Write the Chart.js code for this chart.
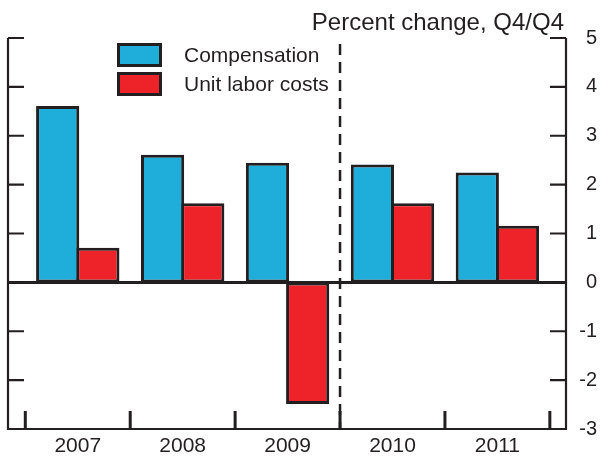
<!DOCTYPE html>
<html lang="en">
<head>
<meta charset="UTF-8">
<title>Compensation and unit labor costs</title>
<style>
  html, body { margin: 0; padding: 0; background: #fff; }
  canvas { display: block; }
</style>
</head>
<body>
<canvas id="myChart" width="603" height="458"></canvas>

<script src="https://cdn.jsdelivr.net/npm/chart.js"></script>
<script>
// data
const years = [2007, 2008, 2009, 2010, 2011];
const compensation = [3.61, 2.61, 2.45, 2.41, 2.25];
const unitLaborCosts = [0.71, 1.62, -2.49, 1.62, 1.16];
const yMin = -3, yMax = 5, yStep = 1;
const splitYear = 2009.5;   // dashed line between actual and projected
const titleText = 'Percent change, Q4/Q4';

const INK = '#231F20';
const BLUE = '#1FADD9';
const RED = '#EE2229';
const FONT = "'Liberation Sans', Arial, Helvetica, sans-serif";

// frame, ticks, zero line, dashed divider, legend and title
const framePlugin = {
  id: 'frame',
  beforeDatasetsDraw(chart) {
    const ctx = chart.ctx, a = chart.chartArea, ys = chart.scales.y;
    const y0 = ys.getPixelForValue(0);
    ctx.save();
    ctx.strokeStyle = INK;
    ctx.lineWidth = 3;
    ctx.beginPath();
    ctx.moveTo(a.left, y0);
    ctx.lineTo(a.right, y0);
    ctx.stroke();
    ctx.restore();
  },
  afterDatasetsDraw(chart) {
    const ctx = chart.ctx, a = chart.chartArea;
    const xs = chart.scales.x, ys = chart.scales.y;
    ctx.save();
    ctx.strokeStyle = INK;
    ctx.lineCap = 'butt';

    // dashed divider
    const xd = xs.getPixelForValue(splitYear);
    ctx.lineWidth = 2.5;
    ctx.setLineDash([11, 7]);
    ctx.beginPath();
    ctx.moveTo(xd, a.top + 6);
    ctx.lineTo(xd, a.bottom);
    ctx.stroke();
    ctx.setLineDash([]);

    // left, right, bottom border
    ctx.lineWidth = 2.2;
    ctx.beginPath();
    ctx.moveTo(a.left, a.top);
    ctx.lineTo(a.left, a.bottom);
    ctx.lineTo(a.right, a.bottom);
    ctx.lineTo(a.right, a.top);
    ctx.stroke();

    // y ticks, pointing inward on both sides
    ys.ticks.forEach(t => {
      const y = ys.getPixelForValue(t.value);
      ctx.beginPath();
      ctx.moveTo(a.left, y);
      ctx.lineTo(a.left + 16, y);
      ctx.moveTo(a.right - 16, y);
      ctx.lineTo(a.right, y);
      ctx.stroke();
    });

    // x ticks at category boundaries
    ctx.lineWidth = 3;
    const bounds = years.map(v => v - 0.5).concat([years[years.length - 1] + 0.5]);
    bounds.forEach(v => {
      const x = xs.getPixelForValue(v);
      ctx.beginPath();
      ctx.moveTo(x, a.bottom);
      ctx.lineTo(x, a.bottom - 18);
      ctx.stroke();
    });

    // legend
    const boxes = [[117, 43], [117, 72]];
    ctx.font = '21px ' + FONT;
    ctx.textBaseline = 'middle';
    ctx.textAlign = 'left';
    chart.data.datasets.forEach((ds, i) => {
      const [bx, by] = boxes[i];
      ctx.fillStyle = ds.backgroundColor;
      ctx.fillRect(bx, by, 45, 24);
      ctx.lineWidth = 3;
      ctx.strokeStyle = INK;
      ctx.strokeRect(bx + 1.5, by + 1.5, 42, 21);
      ctx.fillStyle = INK;
      ctx.fillText(ds.label, 184, by + 13);
    });

    // title
    ctx.font = '24px ' + FONT;
    ctx.textAlign = 'right';
    ctx.textBaseline = 'alphabetic';
    ctx.fillStyle = INK;
    ctx.fillText(titleText, 564, 30);
    ctx.restore();
  }
};

const ctx = document.getElementById('myChart');
const myChart = new Chart(ctx, {
  type: 'bar',
  data: {
    datasets: [
      {
        label: 'Compensation',
        data: years.map((y, i) => ({ x: y, y: compensation[i] })),
        backgroundColor: BLUE,
        borderColor: INK,
        borderWidth: 3,
        borderSkipped: false
      },
      {
        label: 'Unit labor costs',
        data: years.map((y, i) => ({ x: y, y: unitLaborCosts[i] })),
        backgroundColor: RED,
        borderColor: INK,
        borderWidth: 3,
        borderSkipped: false
      }
    ]
  },
  options: {
    responsive: false,
    animation: false,
    devicePixelRatio: 1,
    // neighbouring bars share one border line
    categoryPercentage: 0.766,
    barPercentage: 1.075,
    layout: { padding: { left: 8, right: 6, top: 38, bottom: 0 } },
    plugins: {
      legend: { display: false },
      tooltip: { enabled: false },
      title: { display: false }
    },
    scales: {
      x: {
        type: 'linear',
        offset: false,
        bounds: 'data',
        min: 2006.335,
        max: 2011.654,
        grid: { display: false, drawTicks: false, offset: false },
        border: { display: false },
        afterBuildTicks: s => { s.ticks = years.map(v => ({ value: v })); },
        afterFit: s => { s.height = 29; },
        ticks: {
          autoSkip: false,
          maxRotation: 0,
          padding: 5,
          color: INK,
          font: { family: FONT, size: 21 },
          callback: v => String(v)
        }
      },
      y: {
        position: 'right',
        min: yMin,
        max: yMax,
        grid: { display: false, drawTicks: false },
        border: { display: false },
        afterFit: s => { s.width = 31; },
        ticks: {
          stepSize: yStep,
          crossAlign: 'far',
          padding: 0,
          color: INK,
          font: { family: FONT, size: 20 }
        }
      }
    }
  },
  plugins: [framePlugin]
});
</script>
</body>
</html>
